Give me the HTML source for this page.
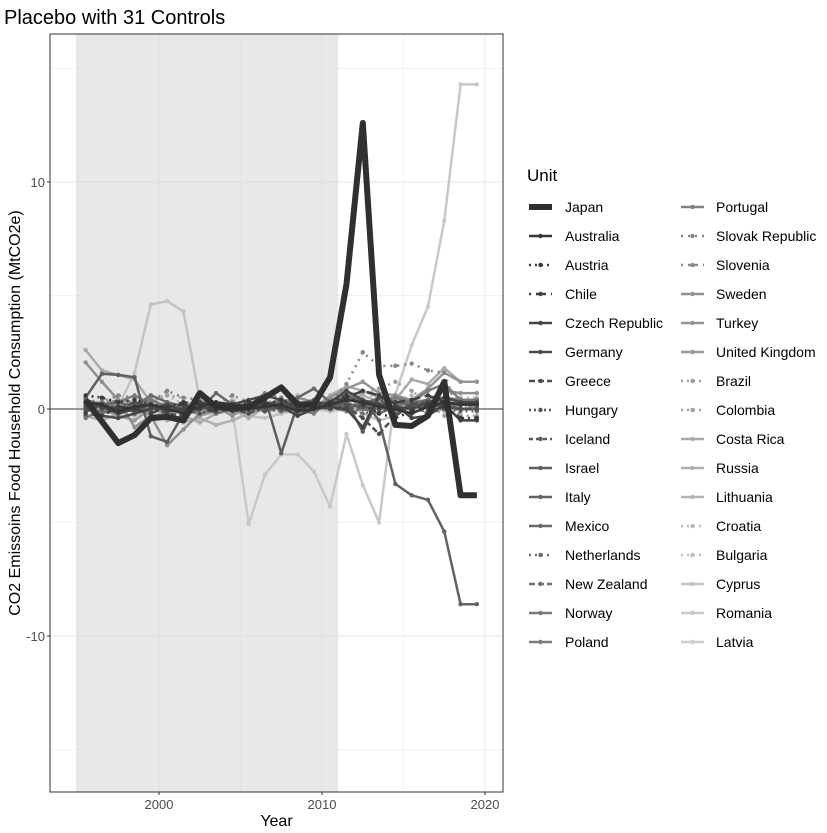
<!DOCTYPE html>
<html><head><meta charset="utf-8">
<style>
body{margin:0;background:#fff;}
svg{display:block;font-family:"Liberation Sans",Arial,sans-serif;}
</style></head>
<body>
<svg id="chart" width="827" height="833" viewBox="0 0 827 833">
<text x="4" y="24" font-size="20" fill="#000">Placebo with 31 Controls</text>
<g id="plot"></g>
<g id="legend"></g>
</svg>
<script>
const units = ["Japan","Australia","Austria","Chile","Czech Republic","Germany","Greece","Hungary","Iceland","Israel","Italy","Mexico","Netherlands","New Zealand","Norway","Poland","Portugal","Slovak Republic","Slovenia","Sweden","Turkey","United Kingdom","Brazil","Colombia","Costa Rica","Russia","Lithuania","Croatia","Bulgaria","Cyprus","Romania","Latvia"];
const years = [1995,1996,1997,1998,1999,2000,2001,2002,2003,2004,2005,2006,2007,2008,2009,2010,2011,2012,2013,2014,2015,2016,2017,2018,2019];
const xTicks = [2000,2010,2020];
const yTicks = [10,0,-10];
const treatStart = 1995, treatEnd = 2011;
const japan = [0.4,-0.55,-1.5,-1.15,-0.4,-0.35,-0.5,0.7,0.1,0.05,0.1,0.5,0.95,0.2,0.2,1.4,5.5,12.6,1.5,-0.7,-0.75,-0.3,1.2,-3.8,-3.8];
const australia = [0.3,0.2,-0.1,0.1,0.2,0.0,-0.2,0.1,0.3,0.2,0.0,0.1,0.2,-0.1,0.0,0.2,0.4,0.3,0.1,0.0,-0.2,0.1,0.3,0.2,0.2];
const austria = [0.6,0.5,0.3,0.4,0.2,0.1,0.3,0.2,0.0,0.1,0.3,0.2,0.4,0.1,0.2,0.3,0.6,0.2,-0.2,-0.4,-0.1,0.2,0.1,-0.4,-0.4];
const chile = [-0.2,-0.3,0.1,0.0,-0.2,0.1,0.2,0.0,-0.1,0.0,0.2,0.3,0.1,0.0,0.1,0.2,0.5,0.8,0.6,0.3,0.4,0.6,0.3,0.2,0.2];
const czech = [0.3,0.1,-0.2,0.0,0.2,-0.1,0.0,0.3,0.1,-0.1,0.0,0.2,0.1,-0.3,0.0,0.1,0.0,-0.8,0.6,0.2,-0.4,-0.3,0.2,-0.5,-0.5];
const germany = [0.1,-0.3,-0.4,-0.2,0.0,0.2,-0.1,0.1,0.0,0.2,0.4,0.6,0.4,0.0,0.2,0.3,0.8,0.4,0.2,0.1,0.0,0.3,0.5,0.3,0.3];
const greece = [-0.1,0.2,0.0,0.3,0.1,-0.2,-0.3,0.0,0.1,0.0,-0.2,0.1,0.0,0.3,0.2,0.0,0.1,-0.4,-1.1,-0.3,0.2,0.3,0.1,0.0,0.0];
const hungary = [0.2,0.0,0.1,-0.1,0.0,0.1,0.0,-0.2,0.0,0.1,0.0,-0.1,0.2,0.0,0.1,0.0,0.2,0.1,0.0,-0.2,0.3,0.1,0.2,0.0,0.0];
const iceland = [0.0,0.1,0.0,0.0,0.1,0.0,0.0,0.1,0.0,0.0,0.0,0.1,0.0,0.0,0.1,0.0,0.0,0.1,0.0,0.0,0.1,0.0,0.0,0.0,0.0];
const israel = [0.5,1.55,1.5,1.4,-1.2,-1.45,-0.2,0.3,0.1,0.0,0.2,0.5,-1.95,0.2,0.4,0.1,0.3,-1.0,0.5,-0.3,0.2,0.1,0.3,0.2,0.2];
const italy = [0.2,0.1,0.0,-0.1,0.0,0.1,0.0,0.2,0.1,0.0,0.1,0.2,0.3,0.1,0.1,0.3,0.5,0.4,-0.5,-3.3,-3.8,-4.0,-5.4,-8.6,-8.6];
const mexico = [0.4,0.2,0.3,0.1,0.6,0.3,0.1,0.0,0.7,0.2,0.0,0.3,0.1,0.5,0.9,0.3,0.1,0.2,0.5,0.3,0.2,0.4,0.1,0.3,0.3];
const netherlands = [-0.3,-0.1,0.0,0.2,0.0,-0.2,0.1,0.0,-0.1,0.1,0.2,0.0,-0.1,0.0,0.2,0.1,0.0,-0.2,-0.1,0.0,0.1,-0.2,0.0,-0.1,-0.1];
const newzealand = [0.0,-0.2,0.1,0.0,-0.1,0.0,0.2,0.1,-0.2,0.0,0.1,0.0,-0.1,0.2,0.0,0.1,-0.1,0.0,0.2,0.1,0.0,-0.1,0.1,0.0,0.0];
const norway = [0.1,0.3,0.0,0.2,0.4,0.1,-0.1,0.0,0.2,0.1,0.0,0.2,0.4,0.3,0.1,0.2,0.3,0.0,-0.2,0.1,0.4,0.2,0.5,0.4,0.4];
const poland = [-0.4,0.0,0.3,0.6,0.2,0.0,0.3,-0.2,0.0,0.3,0.1,-0.1,0.2,0.0,-0.2,0.4,0.6,0.4,0.2,0.5,0.3,0.8,1.1,0.4,0.4];
const portugal = [0.2,0.1,0.0,0.1,0.0,0.2,0.1,0.0,0.1,0.0,-0.1,0.0,0.1,0.2,0.0,0.1,0.2,0.1,0.0,0.1,0.0,0.2,0.1,0.2,0.2];
const slovak = [0.4,0.3,0.6,0.5,0.3,0.8,0.5,0.4,0.2,0.6,0.3,0.7,0.5,0.2,-0.1,0.3,1.1,2.5,1.9,1.9,2.0,1.7,1.6,-0.5,-0.5];
const slovenia = [0.0,0.2,0.4,0.3,0.1,0.0,0.3,0.2,0.0,0.1,0.2,0.0,0.1,0.3,0.0,0.2,0.4,0.2,0.0,0.5,0.3,0.1,0.0,0.1,0.1];
const sweden = [2.05,1.2,0.4,-0.8,-0.3,-1.6,-0.9,-0.2,0.1,-0.3,0.2,0.3,0.1,0.5,0.3,0.2,0.7,0.3,0.2,0.6,0.3,0.4,0.8,0.7,0.7];
const turkey = [-0.1,0.0,0.2,0.1,-0.3,-0.2,0.0,0.1,-0.2,0.0,0.3,0.1,0.0,-0.2,0.1,0.5,0.9,1.2,0.7,0.6,0.4,0.9,1.6,1.2,1.2];
const uk = [0.3,0.0,-0.3,-0.5,0.0,0.3,0.1,-0.3,-0.1,0.2,0.0,0.3,0.2,0.0,0.1,0.3,0.2,0.1,0.3,0.0,0.2,0.1,0.3,0.2,0.2];
const brazil = [0.1,0.3,0.2,0.4,0.3,0.6,0.5,0.4,0.2,0.3,0.1,0.2,0.4,0.2,0.1,0.3,0.5,0.7,0.9,1.2,0.8,0.3,-0.3,-0.3,-0.3];
const colombia = [0.0,0.1,0.2,0.1,0.3,0.2,0.1,0.4,0.2,0.0,0.1,0.3,0.2,0.4,0.1,0.2,0.3,0.1,0.2,0.0,-0.2,0.1,0.2,0.1,0.1];
const costarica = [2.6,1.7,1.5,1.3,0.3,-0.5,-0.3,-0.6,-0.2,0.0,-0.4,0.1,0.3,0.2,0.0,0.6,1.0,0.8,0.5,0.4,1.3,1.1,1.8,1.2,1.2];
const russia = [-0.3,-0.5,-0.2,0.0,0.2,-0.3,-0.6,-0.4,-0.7,-0.5,-0.2,0.0,0.1,0.3,0.0,0.2,0.4,0.6,0.3,0.5,0.2,0.3,0.4,0.3,0.3];
const lithuania = [0.2,0.0,-0.1,0.1,0.3,0.1,0.0,-0.2,0.1,0.0,0.2,0.1,0.0,0.1,0.3,0.2,0.1,0.0,0.2,0.1,0.3,0.2,0.1,0.0,0.0];
const croatia = [0.1,0.4,0.3,0.2,0.5,0.6,0.2,0.3,0.1,0.4,0.2,0.3,0.5,0.6,0.2,0.4,0.8,0.6,0.5,0.3,0.6,0.2,0.4,0.5,0.5];
const bulgaria = [-0.2,0.0,0.1,-0.3,-0.1,0.2,0.0,-0.2,0.1,-0.1,0.0,0.1,-0.2,0.0,0.1,-0.1,0.0,0.2,0.1,-0.1,0.0,0.1,-0.1,0.0,0.0];
const cyprus = [0.3,0.2,0.1,1.6,4.6,4.75,4.3,0.4,-0.2,-0.1,-0.3,-0.4,-0.2,0.0,0.1,-0.1,0.2,-0.2,-0.5,-0.3,0.2,0.1,0.2,0.3,0.3];
const romania = [0.0,0.1,-0.2,-0.3,-0.1,0.0,-0.2,0.0,0.1,0.0,-5.07,-2.9,-2.0,-2.0,-2.75,-4.3,-1.1,-3.35,-5.0,0.65,2.8,4.5,8.3,14.3,14.3];
const latvia = [0.0,-0.1,0.0,0.1,0.0,-0.1,0.0,0.0,0.1,0.0,-0.1,0.0,0.0,0.1,0.0,-0.1,0.0,0.1,0.0,-0.1,0.0,0.0,0.1,0.0,0.0];

const seriesList = [japan,australia,austria,chile,czech,germany,greece,hungary,iceland,israel,italy,mexico,netherlands,newzealand,norway,poland,portugal,slovak,slovenia,sweden,turkey,uk,brazil,colombia,costarica,russia,lithuania,croatia,bulgaria,cyprus,romania,latvia];

const NS="http://www.w3.org/2000/svg";
const L=50,R=503,T=34,B=792;
const xS=v=>159+(v-2000)*16.3;
const yS=v=>409-v*22.7;
const dashes=["","","2,4","2,5,8,0","","","6,3","2,3","4,3","","","","2,4","6,3","","","","2,5","2,5,8,0","","","","2,4","2,4","","","","2,4","2,4","","",""];
function col(i){const g=Math.round(48+i*(205-48)/31);return `rgb(${g},${g},${g})`;}
function mk(tag,attrs,parent){const e=document.createElementNS(NS,tag);for(const k in attrs)e.setAttribute(k,attrs[k]);parent.appendChild(e);return e;}
const plot=document.getElementById('plot');
const lg=document.getElementById('legend');

const bg=mk('rect',{x:L,y:T,width:R-L,height:B-T,fill:'#fff'},plot);


// minor grid
[-15,-5,5,15].forEach(v=>{const l=mk('line',{x1:L,x2:R,y1:yS(v),y2:yS(v),stroke:'#f2f2f2','stroke-width':1},plot);

});
[1995,2005,2015].forEach(v=>{const l=mk('line',{x1:xS(v),x2:xS(v),y1:T,y2:B,stroke:'#f2f2f2','stroke-width':1},plot);

});
yTicks.forEach(v=>{const l=mk('line',{x1:L,x2:R,y1:yS(v),y2:yS(v),stroke:'#ebebeb','stroke-width':1.2},plot);

});
xTicks.forEach(v=>{const l=mk('line',{x1:xS(v),x2:xS(v),y1:T,y2:B,stroke:'#ebebeb','stroke-width':1.2},plot);

});
// treatment shading
const sh=mk('rect',{x:xS(treatStart)-1.5,y:T,width:xS(treatEnd)-xS(treatStart)+1.5,height:B-T,fill:'#d9d9d9','fill-opacity':0.6},plot);


const zl=mk('line',{x1:L,x2:R,y1:yS(0),y2:yS(0),stroke:'#777','stroke-width':1.5},plot);



const px=y=>xS(y+0.5);
for(let i=seriesList.length-1;i>=0;i--){
  const d=seriesList[i];const c=col(i);const w=i===0?6:2.5;
  const g=mk('g',{},plot);
  
  
  const pts=d.map((v,k)=>px(years[k]).toFixed(1)+','+yS(v).toFixed(1)).join(' ');
  const pl=mk('polyline',{points:pts,fill:'none',stroke:c,'stroke-width':w,'stroke-linejoin':'round','stroke-dasharray':dashes[i]},g);
  
  
  if(i>0){d.forEach((v,k)=>{const p=mk('circle',{cx:px(years[k]),cy:yS(v),r:2.2,fill:c},g);
    
    });}
}
const fr=mk('rect',{x:L,y:T,width:R-L,height:B-T,fill:'none',stroke:'#333','stroke-width':1},plot);


yTicks.forEach(v=>{
  const tk=mk('line',{x1:L-3,x2:L,y1:yS(v),y2:yS(v),stroke:'#333'},plot);
  
  
  const t=mk('text',{x:L-5,y:yS(v)+5,'text-anchor':'end','font-size':13,fill:'#4d4d4d'},plot);t.textContent=v;
  
  
});
xTicks.forEach(v=>{
  const tk=mk('line',{x1:xS(v),x2:xS(v),y1:B,y2:B+3,stroke:'#333'},plot);
  
  
  const t=mk('text',{x:xS(v),y:B+17,'text-anchor':'middle','font-size':13,fill:'#4d4d4d'},plot);t.textContent=v;
  
  
});
const xt=mk('text',{x:(L+R)/2,y:826,'text-anchor':'middle','font-size':16,fill:'#000'},plot);xt.textContent='Year';


const yt=mk('text',{x:0,y:0,transform:`translate(20,${(T+B)/2}) rotate(-90)`,'text-anchor':'middle','font-size':16,fill:'#000'},plot);yt.textContent='CO2 Emissoins Food Household Consumption  (MtCO2e)';



// legend
const lt=mk('text',{x:527,y:181,'font-size':17,fill:'#000'},lg);lt.textContent='Unit';


units.forEach((u,i)=>{
  const colI=i<16?0:1,row=i%16;
  const kx=colI?681:529,tx=colI?716:565,cy=207+row*29;
  const g=mk('g',{},lg);
  
  
  const c=col(i);
  const ln=mk('line',{x1:kx,x2:kx+23,y1:cy,y2:cy,stroke:c,'stroke-width':i===0?6:2.5,'stroke-dasharray':dashes[i]},g);
  
  
  if(i>0){const p=mk('circle',{cx:kx+11.5,cy:cy,r:2.2,fill:c},g);
    
    }
  const t=mk('text',{x:tx,y:cy+5,'font-size':14,fill:'#000'},g);t.textContent=u;
  
  
});
</script>
</body></html>
